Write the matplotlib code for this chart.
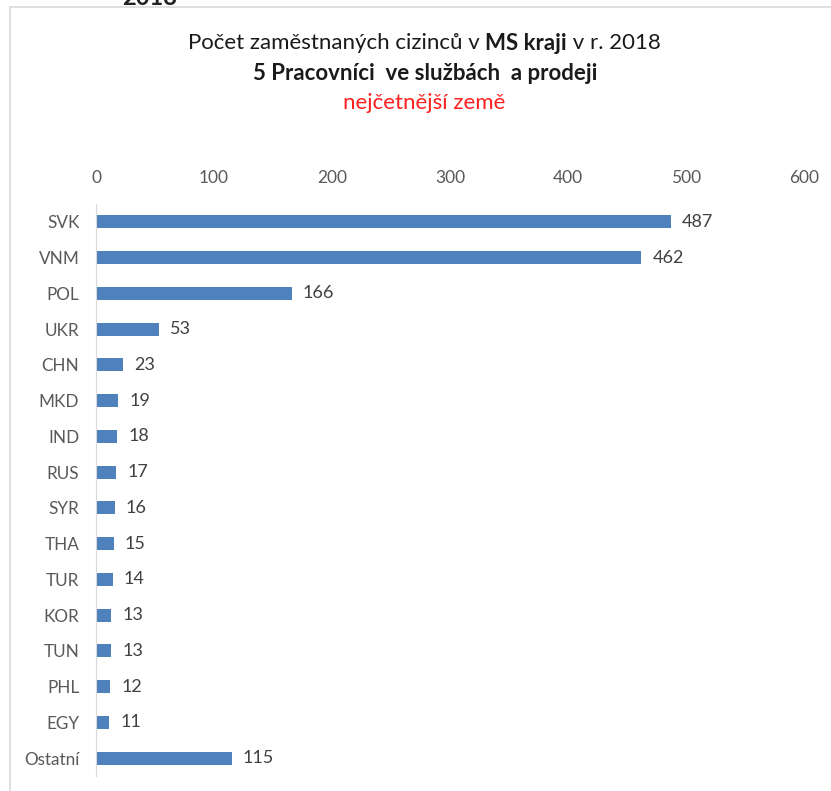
import matplotlib.pyplot as plt
from matplotlib.patches import Rectangle

countries = ["SVK", "VNM", "POL", "UKR", "CHN", "MKD", "IND", "RUS", "SYR",
             "THA", "TUR", "KOR", "TUN", "PHL", "EGY", "Ostatní"]
counts = [487, 462, 166, 53, 23, 19, 18, 17, 16, 15, 14, 13, 13, 12, 11, 115]
xticks = [0, 100, 200, 300, 400, 500, 600]

plt.rcParams["font.family"] = ["Lato", "DejaVu Sans"]

W, H = 831, 791
fig = plt.figure(figsize=(W / 100, H / 100), dpi=100)
fig.patch.set_facecolor("white")

# outer chart frame (cut off at right/bottom like the screenshot)
fig.add_artist(Rectangle((10 / W, -0.05), 1.2, 1 - 7 / H + 0.05,
                         transform=fig.transFigure, fill=False,
                         edgecolor="#d9d9d9", linewidth=1.2))
# leftover of a previous heading, only its bottom edge shows
fig.text(150 / W, 1 - 5 / H, "2018", ha="center", va="baseline",
         fontsize=17, fontweight="bold", color="#222222")

ax = fig.add_axes([96 / W, 1 - 776 / H, (804 - 96) / W, (776 - 204) / H])
ypos = list(range(len(countries)))
ax.barh(ypos, counts, height=0.37, color="#4f81bd")
ax.set_ylim(len(countries) - 0.5, -0.5)
ax.set_xlim(0, 600)
ax.set_yticks(ypos)
ax.set_yticklabels(countries)
ax.set_xticks(xticks)
ax.xaxis.tick_top()
ax.tick_params(axis="x", length=0, pad=13, labelsize=12.5, labelcolor="#595959")
ax.tick_params(axis="y", length=0, pad=12, labelsize=12.3, labelcolor="#595959")
for s in ["top", "right", "bottom"]:
    ax.spines[s].set_visible(False)
ax.spines["left"].set_color("#d9d9d9")

for y, v in zip(ypos, counts):
    ax.annotate(str(v), (v, y), xytext=(8, 0), textcoords="offset points",
                va="center", ha="left", fontsize=13, color="#404040")

# title line 1 with bold part
parts = [("Počet zaměstnaných cizinců v ", "normal"), ("MS kraji", "bold"),
         (" v r. 2018", "normal")]
fig.canvas.draw()
r = fig.canvas.get_renderer()
texts = [fig.text(0, 1 - 43 / H, t, fontsize=16, fontweight=w,
                  color="#1a1a1a", va="center", ha="left") for t, w in parts]
widths = [t.get_window_extent(r).width for t in texts]
x = 424 - sum(widths) / 2
for t, w in zip(texts, widths):
    t.set_x(x / W)
    x += w
fig.text(425 / W, 1 - 73 / H, "5 Pracovníci  ve službách  a prodeji",
         fontsize=16, fontweight="bold", color="#1a1a1a", ha="center", va="center")
fig.text(424 / W, 1 - 103 / H, "nejčetnější země", fontsize=16,
         color="#ff2020", ha="center", va="center")

fig.savefig("out.png", dpi=100)
